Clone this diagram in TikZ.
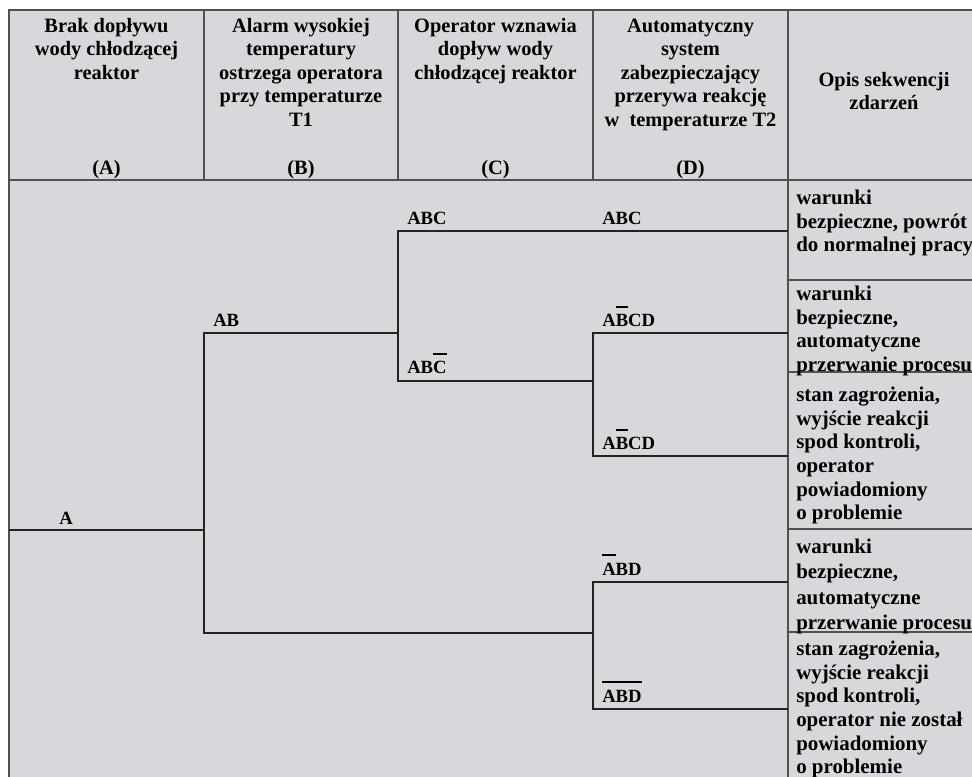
\documentclass[tikz,border=0pt]{standalone}
\usepackage{fontspec}
\setmainfont{Liberation Serif}
\definecolor{bg}{RGB}{215,216,219}
\definecolor{gridc}{RGB}{80,80,80}
\definecolor{treec}{RGB}{35,35,35}
\newcommand\ovl[1]{\setbox0\hbox{#1}\rlap{\rule[14.5pt]{\wd0}{0.9pt}}\box0}
\newcommand\fl{\rule{0pt}{10.5pt}}
\begin{document}
\begin{tikzpicture}[x=0.75pt,y=-0.75pt,
  gridline/.style={draw=gridc,line width=1.1pt},
  branch/.style={draw=treec,line width=1.6pt},
  head/.style={font=\fontsize{15.3}{17.6}\selectfont\bfseries,align=center,inner sep=0,anchor=north},
  letter/.style={font=\fontsize{15.3}{17.6}\selectfont\bfseries,inner sep=0,anchor=base},
  desc/.style={font=\fontsize{15.7}{17.5}\selectfont\bfseries,align=left,inner sep=0,anchor=north west},
  lbl/.style={font=\fontsize{14}{16}\selectfont\bfseries,inner sep=0,anchor=base west}]
\useasboundingbox (0,0) rectangle (972,777);
\fill[bg] (9,10) rectangle (985,790);
% table
\draw[gridline] (9,790) -- (9,10) -- (985,10);
\draw[gridline] (9,180) -- (985,180);
\foreach \x in {204,398,593,788} \draw[gridline] (\x,10) -- (\x,180);
\draw[gridline] (788,180) -- (788,790);
\foreach \y in {280,372,529,632} \draw[gridline] (788,\y) -- (985,\y);
% headers
\node[head] (hA) at (106.5,18) {\fl Brak dopływu\\wody chłodzącej\\reaktor};
\node[head] (hB) at (301,18) {\fl Alarm wysokiej\\temperatury\\ostrzega operatora\\przy temperaturze\\T1};
\node[head] (hC) at (495.5,18) {\fl Operator wznawia\\dopływ wody\\chłodzącej reaktor};
\node[head] (hD) at (690.5,18) {\fl Automatyczny\\system\\zabezpieczający\\przerywa reakcję\\w~ temperaturze T2};
\node[head] (hE) at (884,72) {\fl Opis sekwencji\\zdarzeń};
\node[letter] (lA) at (106.5,175) {(A)};
\node[letter] (lB) at (301,175) {(B)};
\node[letter] (lC) at (495.5,175) {(C)};
\node[letter] (lD) at (690.5,175) {(D)};
% tree points
\coordinate (a0) at (9,530);
\coordinate (a1) at (204,530);
\coordinate (b1top) at (204,333);
\coordinate (b1bot) at (204,633);
\coordinate (c1) at (398,333);
\coordinate (c1top) at (398,231);
\coordinate (c1bot) at (398,381);
\coordinate (e1) at (788,231);
\coordinate (d1) at (593,381);
\coordinate (d1top) at (593,333);
\coordinate (d1bot) at (593,456);
\coordinate (e2) at (788,333);
\coordinate (e3) at (788,456);
\coordinate (d2) at (593,633);
\coordinate (d2top) at (593,582);
\coordinate (d2bot) at (593,709);
\coordinate (e4) at (788,582);
\coordinate (e5) at (788,709);
\draw[branch] (a0) -- (a1);
\draw[branch] (c1) -- (b1top) -- (b1bot) -- (d2);
\draw[branch] (e1) -- (c1top) -- (c1bot) -- (d1);
\draw[branch] (e2) -- (d1top) -- (d1bot) -- (e3);
\draw[branch] (e4) -- (d2top) -- (d2bot) -- (e5);
% labels
\node[lbl] (tA) at (59,524) {A};
\node[lbl] (tAB) at (213,327) {AB};
\node[lbl] (tABC1) at (407,225) {ABC};
\node[lbl] (tABC2) at (602,225) {ABC};
\node[lbl] (tABnC) at (407,374) {AB\ovl{C}};
\node[lbl] (tAnBCD1) at (602,327) {A\ovl{B}CD};
\node[lbl] (tAnBCD2) at (602,450) {A\ovl{B}CD};
\node[lbl] (tnABD) at (602,575) {\ovl{A}BD};
\node[lbl] (tnABDall) at (602,702) {\ovl{ABD}};
% descriptions
\node[desc,font=\fontsize{15.7}{17.5}\selectfont\bfseries] (s1) at (796,190) {\fl warunki\\bezpieczne, powrót\\do normalnej pracy};
\node[desc,font=\fontsize{15.7}{17.6}\selectfont\bfseries] (s2) at (796,286) {\fl warunki\\bezpieczne,\\automatyczne\\przerwanie procesu};
\node[desc,font=\fontsize{15.7}{17.8}\selectfont\bfseries] (s3) at (796,386.5) {\fl stan zagrożenia,\\wyjście reakcji\\spod kontroli,\\operator\\powiadomiony\\o problemie};
\node[desc,font=\fontsize{15.7}{19.1}\selectfont\bfseries] (s4) at (796,538.5) {\fl warunki\\bezpieczne,\\automatyczne\\przerwanie procesu};
\node[desc,font=\fontsize{15.7}{17.8}\selectfont\bfseries] (s5) at (796,640.5) {\fl stan zagrożenia,\\wyjście reakcji\\spod kontroli,\\operator nie został\\powiadomiony\\o problemie};
\end{tikzpicture}
\end{document}
